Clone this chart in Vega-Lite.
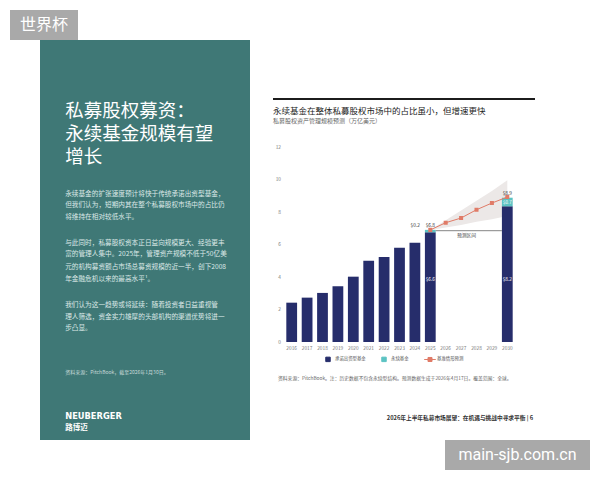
{
  "$schema": "https://vega.github.io/schema/vega-lite/v6.json",
  "padding": {"left": 10, "top": 10, "right": 0, "bottom": 0},
  "background": "#ffffff",
  "config": {"font": "Noto Sans CJK SC", "view": {"stroke": null}, "legend": {"layout": {"bottom": {"anchor": "middle"}}}, "axisY": {"labelOverlap": false, "labelFlush": false}},
  "datasets": {
    "panel": [
      {"kind": "title", "line": 6.05, "text": "私募股权募资："},
      {"kind": "title", "line": 8.04, "text": "永续基金规模有望"},
      {"kind": "title", "line": 10.02, "text": "增长"},
      {"kind": "body", "line": 13.16, "text": "永续基金的扩张速度预计将快于传统承诺出资型基金，"},
      {"kind": "body", "line": 14.1, "text": "但我们认为，短期内其在整个私募股权市场中的占比仍"},
      {"kind": "body", "line": 15.15, "text": "将维持在相对较低水平。"},
      {"kind": "body", "line": 17.32, "text": "与此同时，私募股权资本正日益向规模更大、经验更丰"},
      {"kind": "body", "line": 18.29, "text": "富的管理人集中。2025年，管理资产规模不低于50亿美"},
      {"kind": "body", "line": 19.4, "text": "元的机构募资额占市场总募资规模的近一半，创下2008"},
      {"kind": "body", "line": 20.43, "text": "年金融危机以来的最高水平¹。"},
      {"kind": "body", "line": 22.65, "text": "我们认为这一趋势或将延续：随着投资者日益重视管"},
      {"kind": "body", "line": 23.65, "text": "理人筛选，资金实力雄厚的头部机构的渠道优势将进一"},
      {"kind": "body", "line": 24.64, "text": "步凸显。"},
      {"kind": "source", "line": 28.35, "text": "资料来源：PitchBook，截至2026年1月30日。"},
      {"kind": "logo", "line": 32.25, "text": "NEUBERGER"},
      {"kind": "logo2", "line": 33.2, "text": "路博迈"}
    ],
    "bars": [
      {"year": "2016", "series": "承诺出资型基金", "value": 2.42},
      {"year": "2017", "series": "承诺出资型基金", "value": 2.73},
      {"year": "2018", "series": "承诺出资型基金", "value": 3.02},
      {"year": "2019", "series": "承诺出资型基金", "value": 3.43},
      {"year": "2020", "series": "承诺出资型基金", "value": 4.02},
      {"year": "2021", "series": "承诺出资型基金", "value": 5.0},
      {"year": "2022", "series": "承诺出资型基金", "value": 5.23},
      {"year": "2023", "series": "承诺出资型基金", "value": 5.8},
      {"year": "2024", "series": "承诺出资型基金", "value": 6.11},
      {"year": "2025", "series": "承诺出资型基金", "value": 6.75},
      {"year": "2025", "series": "永续基金", "value": 0.15},
      {"year": "2030", "series": "承诺出资型基金", "value": 8.35},
      {"year": "2030", "series": "永续基金", "value": 0.53}
    ],
    "forecast": [
      {"year": "2025", "series": "基准情形预测", "value": 6.9, "low": 6.9, "high": 6.9},
      {"year": "2026", "series": "基准情形预测", "value": 7.34, "low": 7.05, "high": 7.5},
      {"year": "2027", "series": "基准情形预测", "value": 7.63, "low": 7.2, "high": 8.1},
      {"year": "2028", "series": "基准情形预测", "value": 8.14, "low": 7.4, "high": 8.7},
      {"year": "2029", "series": "基准情形预测", "value": 8.55, "low": 7.55, "high": 9.3},
      {"year": "2030", "series": "基准情形预测", "value": 8.92, "low": 7.75, "high": 9.95}
    ],
    "labels": [
      {"year": "2025", "kind": "total", "label": "$6.8", "v": 6.9},
      {"year": "2030", "kind": "total", "label": "$8.9", "v": 8.88},
      {"year": "2025", "kind": "in", "label": "$6.6", "v": 6.75},
      {"year": "2030", "kind": "in", "label": "$8.2", "v": 8.35},
      {"year": "2030", "kind": "teal", "label": "$0.7", "v": 8.88},
      {"year": "2025", "kind": "side", "label": "$0.2", "v": 6.9}
    ],
    "bracket": [
      {"from": "2025", "to": "2030", "v": 6.85, "label": "预测区间"}
    ]
  },
  "spacing": 0,
  "resolve": {"scale": {"color": "independent", "shape": "independent"}},
  "vconcat": [
    {
      "width": 68, "height": 30,
      "view": {"fill": "#a9a9a9", "stroke": null},
      "data": {"values": [{"t": "世界杯"}]},
      "mark": {"type": "text", "color": "#ffffff", "fontSize": 16, "baseline": "middle", "align": "center"},
      "encoding": {"text": {"field": "t"}}
    },
    {
      "spacing": 23,
      "resolve": {"scale": {"color": "independent", "shape": "independent"}},
      "hconcat": [
        {
          "width": 7, "height": 30,
          "data": {"values": []},
          "mark": {"type": "text"},
          "encoding": {}
        },
        {
          "width": 210, "height": 400,
          "view": {"fill": "#3f7876", "stroke": null},
          "data": {"name": "panel"},
          "encoding": {
            "x": {"datum": 0, "type": "quantitative", "scale": {"domain": [-0.12, 0.88], "nice": false, "zero": false}, "axis": null},
            "y": {"field": "line", "type": "quantitative", "scale": {"domain": [0, 34.2], "nice": false, "zero": false, "reverse": true}, "axis": null},
            "text": {"field": "text"}
          },
          "layer": [
            {"transform": [{"filter": "datum.kind === 'title'"}], "mark": {"type": "text", "align": "left", "baseline": "middle", "fontSize": 18.5, "color": "#ffffff"}},
            {"transform": [{"filter": "datum.kind === 'body'"}], "mark": {"type": "text", "align": "left", "baseline": "middle", "fontSize": 6.65, "color": "#dce8e7"}},
            {"transform": [{"filter": "datum.kind === 'source'"}], "mark": {"type": "text", "align": "left", "baseline": "middle", "fontSize": 5, "color": "#c8dad9"}},
            {"transform": [{"filter": "datum.kind === 'logo'"}], "mark": {"type": "text", "align": "left", "baseline": "middle", "fontSize": 8.3, "fontWeight": "bold", "font": "DejaVu Sans", "color": "#ffffff"}},
            {"transform": [{"filter": "datum.kind === 'logo2'"}], "mark": {"type": "text", "align": "left", "baseline": "middle", "fontSize": 7.5, "fontWeight": "bold", "color": "#ffffff"}}
          ]
        },
        {
          "spacing": 0,
          "resolve": {"scale": {"color": "independent", "shape": "independent"}},
          "vconcat": [
            {"width": 262, "height": 58, "data": {"values": []}, "mark": {"type": "text"}, "encoding": {}},
            {"width": 262, "height": 2, "view": {"fill": "#1c1c1c", "stroke": null}, "data": {"values": []}, "mark": {"type": "text"}, "encoding": {}},
            {"width": 262, "height": 6, "data": {"values": []}, "mark": {"type": "text"}, "encoding": {}},
            {
              "width": 242, "height": 195,
              "title": {
                "text": "永续基金在整体私募股权市场中的占比虽小，但增速更快",
                "subtitle": "私募股权资产管理规模预测（万亿美元）",
                "anchor": "start", "frame": "group",
                "fontSize": 8.5, "fontWeight": "normal", "color": "#222222",
                "subtitleFontSize": 6, "subtitleColor": "#666666", "subtitlePadding": 3,
                "offset": 20
              },
              "resolve": {"axis": {"y": "shared"}},
              "layer": [
                {
                  "data": {"name": "forecast"},
                  "mark": {"type": "area", "color": "#ece8e7"},
                  "encoding": {
                    "x": {"field": "year", "type": "ordinal",
                      "scale": {"domain": ["2016","2017","2018","2019","2020","2021","2022","2023","2024","2025","2026","2027","2028","2029","2030"], "range": [11, 242], "paddingInner": 0.3, "paddingOuter": 0.15},
                      "axis": {"title": null, "labelAngle": 0, "labelFontSize": 4.8, "labelColor": "#777777", "ticks": false, "domain": false, "labelPadding": 3}},
                    "y": {"field": "low", "type": "quantitative",
                      "scale": {"domain": [0, 12], "nice": false},
                      "axis": {"title": null, "values": [0, 2, 4, 6, 8, 10, 12], "tickCount": 7, "labelFontSize": 4.8, "labelColor": "#777777", "labelOverlap": false, "labelFlush": false, "grid": false, "domain": false, "ticks": false, "labelPadding": 3.5, "offset": -11, "minExtent": 0}},
                    "y2": {"field": "high"}
                  }
                },
                {
                  "data": {"name": "bars"},
                  "mark": {"type": "bar"},
                  "encoding": {
                    "x": {"field": "year", "type": "ordinal"},
                    "y": {"field": "value", "type": "quantitative", "stack": "zero"},
                    "order": {"field": "series", "type": "ordinal", "sort": "ascending"},
                    "color": {"field": "series", "type": "nominal",
                      "scale": {"domain": ["承诺出资型基金", "永续基金", "基准情形预测"], "range": ["#262d6b", "#5cc3c3", "#e07b67"]},
                      "legend": {"title": null, "orient": "bottom", "direction": "horizontal", "labelFontSize": 4.4, "labelColor": "#555555", "symbolSize": 20, "columnPadding": 13, "labelOffset": 4, "offset": 6, "padding": 0,
                        "encode": {"symbols": {"update": {"stroke": [{"test": "datum.value === '基准情形预测'", "value": "#e07b67"}, {"value": "transparent"}], "strokeWidth": {"value": 1}}}}}
                    }
                  }
                },
                {
                  "data": {"name": "forecast"},
                  "mark": {"type": "line", "strokeWidth": 1},
                  "encoding": {
                    "x": {"field": "year", "type": "ordinal"},
                    "y": {"field": "value", "type": "quantitative"},
                    "color": {"field": "series", "type": "nominal"}
                  }
                },
                {
                  "data": {"name": "forecast"},
                  "mark": {"type": "point", "filled": true, "size": 20, "opacity": 1},
                  "encoding": {
                    "x": {"field": "year", "type": "ordinal"},
                    "y": {"field": "value", "type": "quantitative"},
                    "color": {"field": "series", "type": "nominal"},
                    "shape": {"field": "series", "type": "nominal",
                      "scale": {"domain": ["承诺出资型基金", "永续基金", "基准情形预测"], "range": ["square", "square", "M-2.6,0H2.6M-0.9,-0.9H0.9V0.9H-0.9Z"]},
                      "legend": {"title": null, "orient": "bottom", "direction": "horizontal", "labelFontSize": 4.4, "labelColor": "#555555", "symbolSize": 20, "columnPadding": 13, "labelOffset": 4, "offset": 6, "padding": 0}}
                  }
                },
                {
                  "data": {"name": "bracket"},
                  "mark": {"type": "rule", "color": "#666666", "strokeWidth": 0.8},
                  "encoding": {
                    "x": {"field": "from", "type": "ordinal", "bandPosition": 1},
                    "x2": {"field": "to", "bandPosition": 0},
                    "y": {"field": "v", "type": "quantitative"}
                  }
                },
                {
                  "data": {"name": "bracket"},
                  "mark": {"type": "text", "fontSize": 4.8, "color": "#444444", "baseline": "top", "dy": 2},
                  "encoding": {
                    "x": {"datum": "2027", "type": "ordinal", "bandPosition": 1},
                    "y": {"field": "v", "type": "quantitative"},
                    "text": {"field": "label"}
                  }
                },
                {
                  "data": {"name": "labels"},
                  "transform": [{"filter": "datum.kind === 'total'"}],
                  "mark": {"type": "text", "fontSize": 4.8, "color": "#333333", "baseline": "bottom", "dy": -2},
                  "encoding": {
                    "x": {"field": "year", "type": "ordinal"},
                    "y": {"field": "v", "type": "quantitative"},
                    "text": {"field": "label"}
                  }
                },
                {
                  "data": {"name": "labels"},
                  "transform": [{"filter": "datum.kind === 'side'"}],
                  "mark": {"type": "text", "fontSize": 4.8, "color": "#333333", "baseline": "bottom", "align": "right", "dy": -2, "dx": -5},
                  "encoding": {
                    "x": {"field": "year", "type": "ordinal", "bandPosition": 0},
                    "y": {"field": "v", "type": "quantitative"},
                    "text": {"field": "label"}
                  }
                },
                {
                  "data": {"name": "labels"},
                  "transform": [{"filter": "datum.kind === 'in'"}],
                  "mark": {"type": "text", "fontSize": 4.8, "color": "#ffffff", "baseline": "middle"},
                  "encoding": {
                    "x": {"field": "year", "type": "ordinal"},
                    "y": {"datum": 3.8, "type": "quantitative"},
                    "text": {"field": "label"}
                  }
                },
                {
                  "data": {"name": "labels"},
                  "transform": [{"filter": "datum.kind === 'teal'"}],
                  "mark": {"type": "text", "fontSize": 4.5, "color": "#ffffff", "baseline": "top", "dy": 2},
                  "encoding": {
                    "x": {"field": "year", "type": "ordinal"},
                    "y": {"field": "v", "type": "quantitative"},
                    "text": {"field": "label"}
                  }
                }
              ]
            },
            {
              "width": 262, "height": 9,
              "title": {"text": "资料来源：PitchBook。注：历史数据不包含永续型结构。预测数据生成于2026年4月17日。覆盖范围：全球。", "orient": "bottom", "anchor": "start", "frame": "group", "fontSize": 4.8, "fontWeight": "normal", "color": "#666666", "offset": 2.5, "dx": 5},
              "data": {"values": []}, "mark": {"type": "text"}, "encoding": {}
            },
            {
              "width": 262, "height": 31.5,
              "title": {"text": "2026年上半年私募市场展望：在机遇与挑战中寻求平衡 | 6", "orient": "bottom", "anchor": "end", "frame": "group", "fontSize": 5.7, "fontWeight": "bold", "color": "#333333", "offset": 2, "dx": -2},
              "data": {"values": []}, "mark": {"type": "text"}, "encoding": {}
            }
          ]
        }
      ]
    },
    {
      "spacing": 0,
      "hconcat": [
        {"width": 435, "height": 30, "data": {"values": []}, "mark": {"type": "text"}, "encoding": {}},
        {
          "width": 145, "height": 30,
          "view": {"fill": "#a9a9a9", "stroke": null},
          "data": {"values": [{"t": "main-sjb.com.cn"}]},
          "mark": {"type": "text", "color": "#ffffff", "fontSize": 16, "font": "Roboto", "baseline": "middle", "align": "center"},
          "encoding": {"text": {"field": "t"}}
        }
      ]
    }
  ]
}
